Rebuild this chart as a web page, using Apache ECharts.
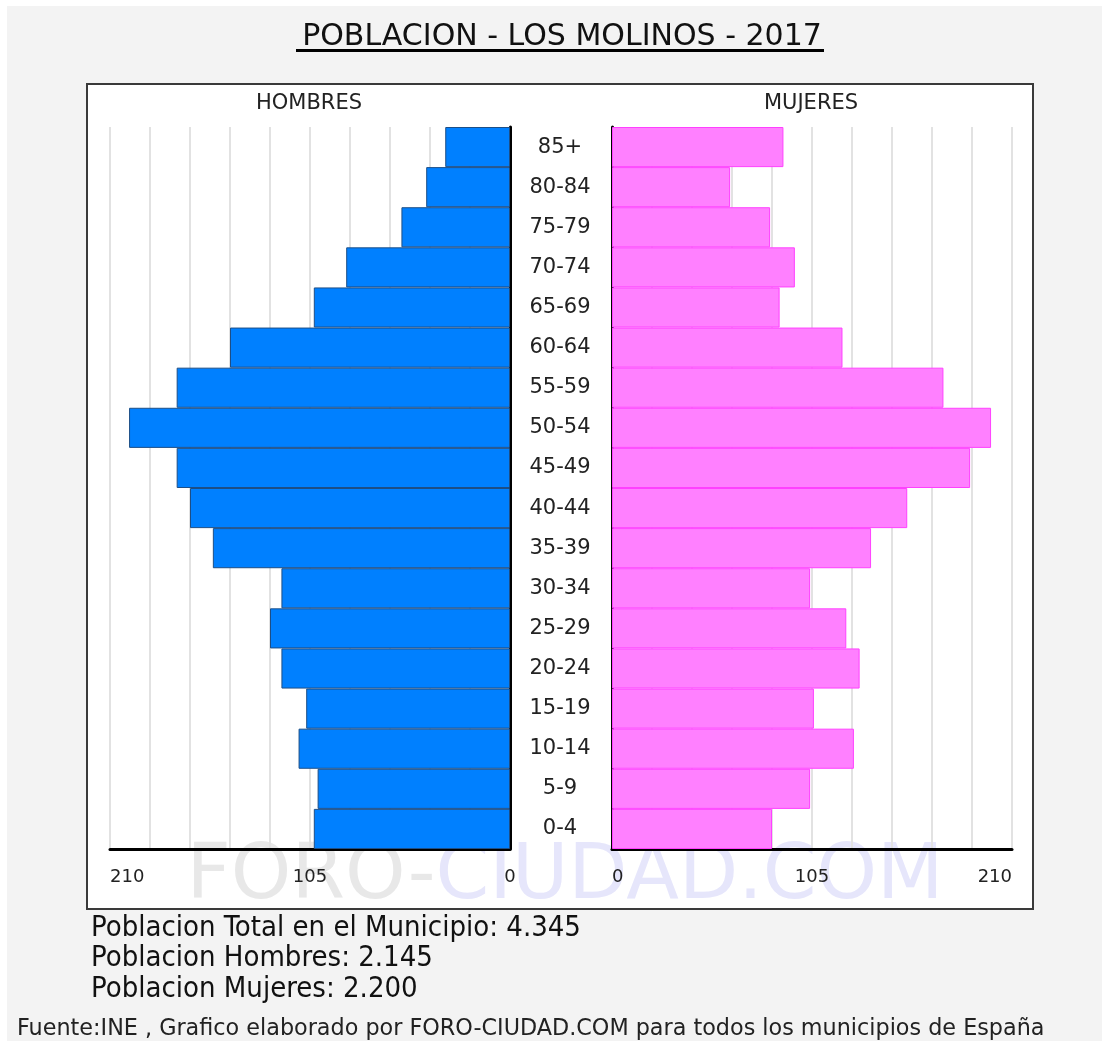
<!DOCTYPE html>
<html>
<head>
<meta charset="utf-8">
<script src="https://cdn.jsdelivr.net/npm/echarts@6/dist/echarts.min.js"></script>
<style>
  html, body { margin: 0; padding: 0; background: #fff; }
  #chart { width: 1102px; height: 1041px; }
</style>
</head>
<body>
<div id="chart"></div>
<script>
// grupos de edad, de abajo hacia arriba
const ages = ['0-4', '5-9', '10-14', '15-19', '20-24', '25-29', '30-34', '35-39', '40-44',
  '45-49', '50-54', '55-59', '60-64', '65-69', '70-74', '75-79', '80-84', '85+'];
const hombres = [103, 101, 111, 107, 120, 126, 120, 156, 168, 175, 200, 175, 147, 103, 86, 57, 44, 34];
const mujeres = [84, 104, 127, 106, 130, 123, 104, 136, 155, 188, 199, 174, 121, 88, 96, 83, 62, 90];
const axisMax = 210;
const axisStep = 21;
const shownTicks = [0, 105, 210];
const titleText = 'POBLACION - LOS MOLINOS - 2017';
const resumen = ['Poblacion Total en el Municipio: 4.345', 'Poblacion Hombres: 2.145', 'Poblacion Mujeres: 2.200'];
const fuente = 'Fuente:INE , Grafico elaborado por FORO-CIUDAD.COM para todos los municipios de España';

const FONT = 'DejaVu Sans';
const FONT_C = '"DejaVu Sans Condensed", "DejaVu Sans"';
const chart = echarts.init(document.getElementById('chart'));

const tickFmt = (v) => (shownTicks.indexOf(v) >= 0 ? String(v) : '');

const xAxisBase = {
  type: 'value',
  min: 0,
  max: axisMax,
  interval: axisStep,
  axisLine: { show: true, lineStyle: { color: '#000', width: 3 } },
  axisTick: { show: false },
  splitLine: { show: true, lineStyle: { color: '#e2e2e2', width: 2 } },
  axisLabel: { formatter: tickFmt, margin: 19, fontFamily: FONT, fontSize: 18, color: '#222' }
};

const option = {
  backgroundColor: '#ffffff',
  animation: false,
  grid: [
    { left: 110, width: 400, top: 127, height: 722 },
    { left: 612, width: 400, top: 127, height: 722 }
  ],
  xAxis: [
    Object.assign({}, xAxisBase, { gridIndex: 0, inverse: true,
      axisLabel: Object.assign({}, xAxisBase.axisLabel, { alignMaxLabel: 'left' }) }),
    Object.assign({}, xAxisBase, { gridIndex: 1,
      axisLabel: Object.assign({}, xAxisBase.axisLabel, { alignMinLabel: 'left', alignMaxLabel: 'right' }) })
  ],
  yAxis: [
    {
      type: 'category', gridIndex: 0, data: ages, position: 'right',
      axisLine: { show: true, onZero: false, lineStyle: { color: '#000', width: 3 } },
      axisTick: { show: false },
      axisLabel: { margin: 50, align: 'center', fontFamily: FONT, fontSize: 21, color: '#222' }
    },
    {
      type: 'category', gridIndex: 1, data: ages, position: 'left',
      axisLine: { show: true, onZero: false, lineStyle: { color: '#000', width: 3 } },
      axisTick: { show: false },
      axisLabel: { show: false }
    }
  ],
  series: [
    {
      name: 'Hombres', type: 'bar', xAxisIndex: 0, yAxisIndex: 0, data: hombres,
      barCategoryGap: '0%',
      itemStyle: { color: '#0080ff', borderColor: '#1d4e86', borderWidth: 1 }
    },
    {
      name: 'Mujeres', type: 'bar', xAxisIndex: 1, yAxisIndex: 1, data: mujeres,
      barCategoryGap: '0%',
      itemStyle: { color: '#ff80ff', borderColor: '#ff40ff', borderWidth: 1 }
    }
  ],
  graphic: [
    { type: 'rect', z: -20, shape: { x: 7, y: 6, width: 1095, height: 1035 }, style: { fill: '#f3f3f3' } },
    { type: 'rect', z: -19, shape: { x: 87, y: 84, width: 946, height: 825 },
      style: { fill: '#ffffff', stroke: '#3a3a3a', lineWidth: 2 } },
    { type: 'text', z: -18, x: 565, y: 878,
      style: {
        text: '{a|FORO-}{b|CIUDAD.COM}', align: 'center', verticalAlign: 'middle',
        rich: {
          a: { fontFamily: FONT, fontSize: 77, fill: '#e8e8e8' },
          b: { fontFamily: FONT, fontSize: 77, fill: '#e6e6fb' }
        }
      } },
    { type: 'text', x: 562, y: 37,
      style: { text: titleText, align: 'center', verticalAlign: 'middle', fontFamily: FONT, fontSize: 30, fill: '#111' } },
    { type: 'line', shape: { x1: 296, y1: 50.5, x2: 824, y2: 50.5 }, style: { stroke: '#000', lineWidth: 3 } },
    { type: 'text', x: 309, y: 104,
      style: { text: 'HOMBRES', align: 'center', verticalAlign: 'middle', fontFamily: FONT, fontSize: 21, fill: '#222' } },
    { type: 'text', x: 811, y: 104,
      style: { text: 'MUJERES', align: 'center', verticalAlign: 'middle', fontFamily: FONT, fontSize: 21, fill: '#222' } },
    { type: 'text', x: 91, y: 928,
      style: { text: resumen[0], verticalAlign: 'middle', fontFamily: FONT_C, fontSize: 29, fill: '#111' } },
    { type: 'text', x: 91, y: 958,
      style: { text: resumen[1], verticalAlign: 'middle', fontFamily: FONT_C, fontSize: 29, fill: '#111' } },
    { type: 'text', x: 91, y: 989,
      style: { text: resumen[2], verticalAlign: 'middle', fontFamily: FONT_C, fontSize: 29, fill: '#111' } },
    { type: 'text', x: 17, y: 1029,
      style: { text: fuente, verticalAlign: 'middle', fontFamily: FONT, fontSize: 22.3, fill: '#222' } }
  ]
};

chart.setOption(option);
</script>
</body>
</html>
